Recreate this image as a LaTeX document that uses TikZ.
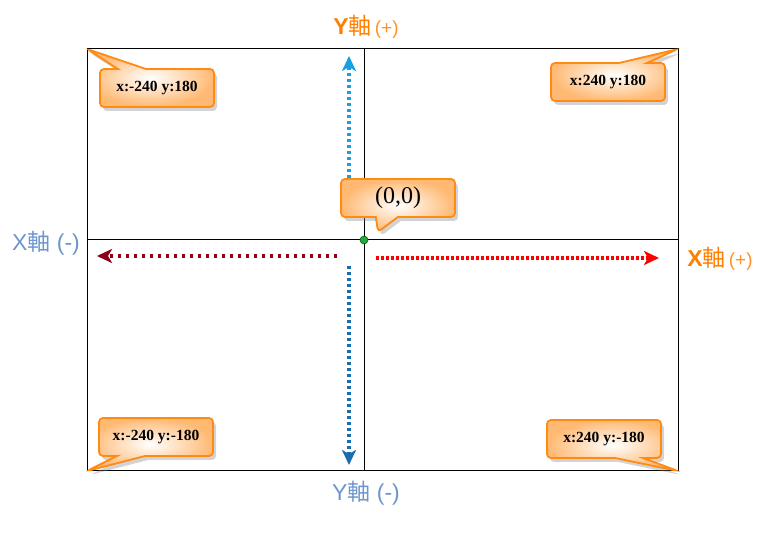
\documentclass[tikz,border=0pt]{standalone}
\usepackage{fontspec}
\setmainfont{Liberation Serif}
\setsansfont{Liberation Sans}
\newfontfamily\cjk{Noto Sans CJK SC}
\usetikzlibrary{positioning, arrows.meta, shapes.callouts, shadows}

\definecolor{axisorange}{RGB}{255,128,0}
\definecolor{axisblue}{RGB}{110,150,205}
\definecolor{bubbleedge}{RGB}{255,138,20}
\definecolor{skyblue}{RGB}{20,160,225}
\definecolor{steelarrow}{RGB}{25,110,175}
\definecolor{darkred}{RGB}{140,0,25}
\definecolor{dotgreen}{RGB}{40,165,70}

\tikzset{
  bubble/.style={rectangle callout, draw=bubbleedge, line width=1.8pt, rounded corners=4pt,
    shade, inner color=white, outer color=bubbleedge!60,
    drop shadow={shadow xshift=3pt, shadow yshift=-4pt, opacity=.35},
    minimum width=114pt, minimum height=38pt, callout pointer width=28pt,
    font=\fontsize{15.5}{17}\selectfont\bfseries},
  axislabel/.style={font=\sffamily\fontsize{23}{26}\selectfont},
  tipline/.style={-{Stealth[length=15pt,width=14pt,inset=4pt]}, line width=3.4pt}
}

\begin{document}
\begin{tikzpicture}[x=1pt, y=-1pt]
    \useasboundingbox (0,0) rectangle (764,537);

    % Frame and axes
    \coordinate (tl) at (87,49);
    \coordinate (tr) at (678,49);
    \coordinate (bl) at (87,471);
    \coordinate (br) at (678,471);
    \coordinate (top) at (364,49);
    \coordinate (bottom) at (364,471);
    \coordinate (left) at (87,240);
    \coordinate (right) at (678,240);
    \draw[line width=1pt] (tl) rectangle (br);
    \draw[line width=1pt] (top) -- (bottom);
    \draw[line width=1pt] (left) -- (right);

    % Direction arrows
    \coordinate (up0) at (349,178);
    \coordinate (up1) at (349,56);
    \coordinate (dn0) at (349,266);
    \coordinate (dn1) at (349,465);
    \coordinate (lf0) at (337,256);
    \coordinate (lf1) at (97,256);
    \coordinate (rt0) at (376,258);
    \coordinate (rt1) at (659,258);
    \draw[tipline, skyblue, dash pattern=on 3pt off 3pt] (up0) -- (up1);
    \draw[tipline, steelarrow, dash pattern=on 3pt off 3pt] (dn0) -- (dn1);
    \draw[tipline, darkred, dash pattern=on 3.5pt off 4.5pt] (lf0) -- (lf1);
    \draw[tipline, red, dash pattern=on 3pt off 2pt] (rt0) -- (rt1);

    % Origin
    \node[circle, fill=dotgreen, draw=green!40!black, line width=.6pt, inner sep=0pt,
          minimum size=8pt] (o) at (364,240) {};
    \coordinate (otip) at (378,232);

    % Callouts
    \node[bubble, callout absolute pointer=(tl)] (ctl) at (157,88) {x:-240 y:180};
    \node[bubble, callout absolute pointer=(tr)] (ctr) at (608,82) {x:240 y:180};
    \node[bubble, callout absolute pointer=(otip), callout pointer width=22pt,
          font=\fontsize{24}{26}\selectfont] (corigin) at (398,198) {(0,0)};
    \node[bubble, callout absolute pointer=(bl)] (cbl) at (156,437) {x:-240 y:-180};
    \node[bubble, callout absolute pointer=(br)] (cbr) at (604,439) {x:240 y:-180};

    % Axis labels
    \node[axislabel, text=axisorange] (yplus) at (366,27)
        {\textbf{Y}{\cjk 軸}{\fontsize{19}{22}\selectfont\color{axisorange!85}\,(+)}};
    \node[axislabel, text=axisorange] (xplus) at (720,259)
        {\textbf{X}{\cjk 軸}{\fontsize{19}{22}\selectfont\color{axisorange!85}\,(+)}};
    \node[axislabel, text=axisblue] (xminus) at (46,243) {X{\cjk 軸} (-)};
    \node[axislabel, text=axisblue] (yminus) at (366,493) {Y{\cjk 軸} (-)};
\end{tikzpicture}
\end{document}
